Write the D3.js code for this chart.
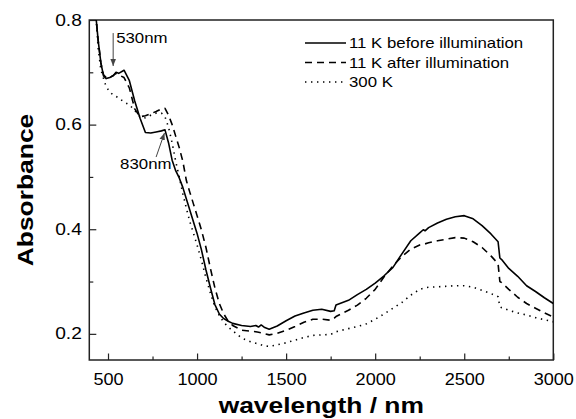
<!DOCTYPE html>
<html>
<head>
<meta charset="utf-8">
<script src="https://cdn.jsdelivr.net/npm/d3@7"></script>
<style>
  body { margin: 0; background: #fff; }
  text { font-family: "Liberation Sans", Arial, sans-serif; fill: #000; }
</style>
</head>
<body>
<div id="chart"></div>
<script>
'use strict';

// wavelength grid (nm) shared by the three spectra
const wavelength = [430, 445, 460, 475, 490, 510, 530, 545, 560, 590, 620, 650, 680, 710, 740, 770, 800, 820,
    840, 860, 880, 900, 920, 940, 960, 980, 1000, 1025, 1050, 1075, 1100, 1125, 1150, 1175, 1200, 1250, 1300,
    1330, 1345, 1360, 1380, 1405, 1450, 1500, 1550, 1600, 1650, 1700, 1750, 1770, 1780, 1850, 1900, 1950, 2000,
    2050, 2100, 2150, 2200, 2250, 2270, 2280, 2300, 2350, 2400, 2450, 2500, 2550, 2600, 2650, 2690, 2700, 2710,
    2750, 2800, 2850, 2900, 2950, 3000];

const before11K = [0.815, 0.76, 0.718, 0.693, 0.688, 0.690, 0.694, 0.700, 0.698, 0.704, 0.684, 0.645, 0.612, 0.585,
    0.584, 0.586, 0.588, 0.590, 0.565, 0.532, 0.512, 0.498, 0.480, 0.458, 0.436, 0.414, 0.392, 0.360, 0.322, 0.288,
    0.256, 0.238, 0.229, 0.224, 0.220, 0.216, 0.214, 0.216, 0.213, 0.217, 0.212, 0.209, 0.215, 0.225, 0.234, 0.240,
    0.245, 0.247, 0.243, 0.244, 0.255, 0.264, 0.275, 0.285, 0.297, 0.311, 0.327, 0.353, 0.378, 0.393, 0.399, 0.397,
    0.403, 0.412, 0.419, 0.424, 0.426, 0.420, 0.407, 0.391, 0.376, 0.345, 0.342, 0.325, 0.310, 0.292, 0.281, 0.269,
    0.258];

const after11K = [0.815, 0.76, 0.718, 0.695, 0.690, 0.690, 0.694, 0.698, 0.695, 0.690, 0.670, 0.630, 0.615, 0.617,
    0.621, 0.625, 0.630, 0.631, 0.618, 0.600, 0.578, 0.556, 0.530, 0.493, 0.470, 0.448, 0.426, 0.398, 0.365, 0.325,
    0.288, 0.258, 0.238, 0.224, 0.216, 0.207, 0.205, 0.204, 0.203, 0.202, 0.200, 0.198, 0.201, 0.207, 0.214, 0.222,
    0.228, 0.228, 0.226, 0.230, 0.233, 0.245, 0.255, 0.268, 0.285, 0.309, 0.330, 0.348, 0.362, 0.370, 0.372, 0.372,
    0.374, 0.378, 0.381, 0.384, 0.383, 0.376, 0.365, 0.349, 0.334, 0.300, 0.298, 0.285, 0.270, 0.258, 0.249, 0.240,
    0.232];

const room300K = [0.815, 0.745, 0.705, 0.688, 0.672, 0.663, 0.656, 0.654, 0.651, 0.643, 0.638, 0.627, 0.615, 0.613,
    0.618, 0.622, 0.622, 0.615, 0.595, 0.565, 0.530, 0.500, 0.468, 0.440, 0.414, 0.392, 0.370, 0.340, 0.307, 0.278,
    0.252, 0.235, 0.222, 0.213, 0.206, 0.192, 0.185, 0.182, 0.181, 0.179, 0.177, 0.176, 0.179, 0.183, 0.188, 0.193,
    0.197, 0.198, 0.199, 0.202, 0.204, 0.210, 0.214, 0.219, 0.228, 0.238, 0.249, 0.260, 0.274, 0.285, 0.287, 0.288,
    0.289, 0.290, 0.291, 0.292, 0.292, 0.289, 0.283, 0.277, 0.271, 0.252, 0.250, 0.245, 0.240, 0.236, 0.231, 0.227,
    0.223];

const seriesNames = ['11 K before illumination', '11 K after illumination', '300 K'];
const xTicks = [500, 1000, 1500, 2000, 2500, 3000];
const xMinor = [750, 1250, 1750, 2250, 2750];
const yTicks = [0.2, 0.4, 0.6, 0.8];
const yMinor = [0.3, 0.5, 0.7];

// annotation arrows: [label, tailX, tailY, tipX, tipY, labelX, labelY]
const notes = [
    ['530nm', 529, 0.775, 529, 0.712, 546, 0.766],
    ['830nm', 770, 0.538, 817, 0.584, 568, 0.525]
];

const W = 576, H = 419;
const margin = { top: 20, right: 22.7, bottom: 59, left: 89.3 };
const stretch = 1.2;

const svg = d3.select('#chart').append('svg')
    .attr('width', W).attr('height', H);

const x = d3.scaleLinear().domain([395, 3000]).range([margin.left, W - margin.right]);
const y = d3.scaleLinear().domain([0.15, 0.8]).range([H - margin.bottom, margin.top]);

const defs = svg.append('defs');
defs.append('clipPath').attr('id', 'plot')
    .append('rect')
    .attr('x', margin.left).attr('y', margin.top)
    .attr('width', W - margin.left - margin.right)
    .attr('height', H - margin.top - margin.bottom);

defs.append('marker')
    .attr('id', 'head')
    .attr('viewBox', '0 0 10 10')
    .attr('refX', 10).attr('refY', 5)
    .attr('markerWidth', 7).attr('markerHeight', 7)
    .attr('markerUnits', 'userSpaceOnUse')
    .attr('orient', 'auto')
    .append('path').attr('d', 'M0,1 L10,5 L0,9 Z').attr('fill', '#444');

// axes, ticks pointing inwards
const xAxis = svg.append('g')
    .attr('transform', `translate(0,${H - margin.bottom})`)
    .call(d3.axisBottom(x).tickValues(xTicks).tickSize(-6.5).tickPadding(13.5).tickFormat(d3.format('d')));
svg.append('g')
    .attr('transform', `translate(0,${H - margin.bottom})`)
    .call(d3.axisBottom(x).tickValues(xMinor).tickSize(-3.5).tickFormat(''));

const yAxis = svg.append('g')
    .attr('transform', `translate(${margin.left},0)`)
    .call(d3.axisLeft(y).tickValues(yTicks).tickSize(-7).tickPadding(7).tickFormat(d3.format('.1f')));
svg.append('g')
    .attr('transform', `translate(${margin.left},0)`)
    .call(d3.axisLeft(y).tickValues(yMinor).tickSize(-4).tickFormat(''));

svg.selectAll('.domain').remove();
svg.selectAll('.tick line').attr('stroke', '#222').attr('stroke-width', 1.2);

xAxis.selectAll('.tick text')
    .attr('font-size', 16).attr('font-family', null)
    .attr('transform', 'scale(1.13,1)');
yAxis.selectAll('.tick text')
    .attr('font-size', 16).attr('font-family', null)
    .attr('x', 0)
    .attr('transform', `translate(-7.5,0) scale(${stretch},1)`);

// frame
svg.append('rect')
    .attr('x', margin.left).attr('y', margin.top)
    .attr('width', W - margin.left - margin.right)
    .attr('height', H - margin.top - margin.bottom)
    .attr('fill', 'none').attr('stroke', '#222').attr('stroke-width', 1.5);

// spectra
const styles = [
    { values: before11K, dash: null, width: 1.6 },
    { values: after11K, dash: '7,5', width: 1.6 },
    { values: room300K, dash: '1.4,4.6', width: 1.6 }
];

const line = d3.line()
    .x(d => x(d[0]))
    .y(d => y(d[1]));

const plot = svg.append('g').attr('clip-path', 'url(#plot)');
styles.forEach(s => {
    plot.append('path')
        .datum(wavelength.map((w, i) => [w, s.values[i]]))
        .attr('d', line)
        .attr('fill', 'none')
        .attr('stroke', '#000')
        .attr('stroke-width', s.width)
        .attr('stroke-linejoin', 'round')
        .attr('stroke-dasharray', s.dash);
});

// legend
const legend = svg.append('g').attr('transform', 'translate(305,43)');
seriesNames.forEach((name, i) => {
    const row = legend.append('g').attr('transform', `translate(0,${i * 19.5})`);
    row.append('line')
        .attr('x1', 0).attr('x2', 41).attr('y1', 0).attr('y2', 0)
        .attr('stroke', '#000').attr('stroke-width', 1.6)
        .attr('stroke-dasharray', styles[i].dash);
    row.append('text')
        .attr('transform', `translate(44,0) scale(${stretch},1)`)
        .attr('dy', '0.36em')
        .attr('font-size', 14)
        .text(name);
});

// annotations
notes.forEach(n => {
    svg.append('line')
        .attr('x1', x(n[1])).attr('y1', y(n[2]))
        .attr('x2', x(n[3])).attr('y2', y(n[4]))
        .attr('stroke', '#444').attr('stroke-width', 1)
        .attr('marker-end', 'url(#head)');
    svg.append('text')
        .attr('transform', `translate(${x(n[5])},${y(n[6])}) scale(${stretch},1)`)
        .attr('dy', '0.36em')
        .attr('font-size', 14)
        .text(n[0]);
});

// axis titles
svg.append('text')
    .attr('transform', `translate(${(margin.left + W - margin.right) / 2},413) scale(${stretch},1)`)
    .attr('text-anchor', 'middle')
    .attr('font-size', 22).attr('font-weight', 'bold')
    .text('wavelength / nm');

svg.append('text')
    .attr('transform', `translate(33,190) rotate(-90) scale(${stretch},1)`)
    .attr('text-anchor', 'middle')
    .attr('font-size', 22).attr('font-weight', 'bold')
    .text('Absorbance');
</script>
</body>
</html>
